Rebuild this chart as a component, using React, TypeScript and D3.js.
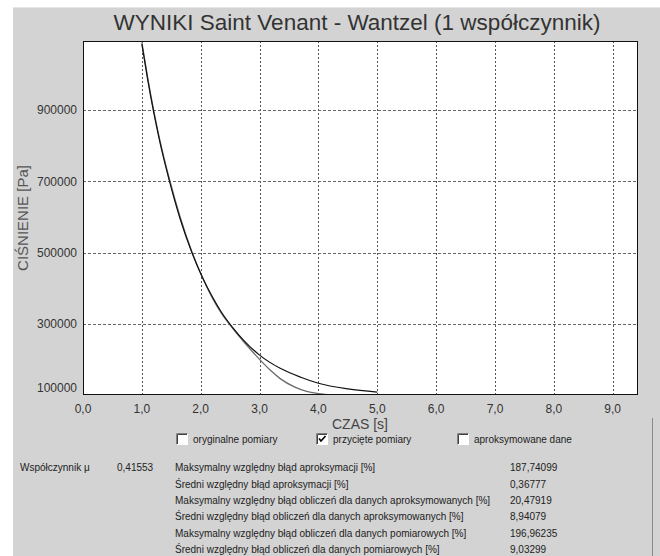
import React from 'react';
import * as d3 from 'd3';

// time [s] and pressure [Pa]
const approxTime = [1.0, 1.1, 1.2, 1.3, 1.47, 1.65, 1.85, 2.03, 2.2, 2.35, 2.53, 2.75, 3.0, 3.35, 3.7, 4.0, 4.5, 5.0];
const approxPressure = [1085000, 985000, 895000, 815000, 700000, 595000, 500000, 430000, 375000, 333000, 292000, 250000, 212000, 175000, 150000, 133000, 117000, 108000];

const measTime = [1.0, 1.1, 1.2, 1.3, 1.47, 1.65, 1.85, 2.03, 2.2, 2.35, 2.53, 2.75, 3.0, 3.18, 3.35, 3.6, 3.8, 4.0, 4.25];
const measPressure = [1090000, 990000, 900000, 820000, 705000, 600000, 502000, 430000, 372000, 330000, 290000, 246000, 200000, 170000, 146000, 122000, 110000, 104000, 100000];

const xTicks = [0, 1, 2, 3, 4, 5, 6, 7, 8, 9];
const yTicks = [100000, 300000, 500000, 700000, 900000];

const checkboxes = [
  { label: 'oryginalne pomiary', checked: false },
  { label: 'przycięte pomiary', checked: true },
  { label: 'aproksymowane dane', checked: false },
];

const statLabels = [
  'Maksymalny względny błąd aproksymacji [%]',
  'Średni względny błąd aproksymacji [%]',
  'Maksymalny względny błąd obliczeń dla danych aproksymowanych [%]',
  'Średni względny błąd obliczeń dla danych aproksymowanych [%]',
  'Maksymalny względny błąd obliczeń dla danych pomiarowych [%]',
  'Średni względny błąd obliczeń dla danych pomiarowych [%]',
];
const statValues = ['187,74099', '0,36777', '20,47919', '8,94079', '196,96235', '9,03299'];
const coefficient = '0,41553';

export default function App() {
  const left = 83;
  const right = 638;
  const top = 41;
  const bottom = 395;

  const x = d3.scaleLinear().domain([0, 9.43]).range([left, right]);
  const y = d3.scaleLinear().domain([100000, 1094000]).range([bottom, top]);

  const line = d3
    .line<[number, number]>()
    .x(d => x(d[0]))
    .y(d => y(d[1]))
    .curve(d3.curveMonotoneX);

  const approxPath = line(approxTime.map((t, i) => [t, approxPressure[i]]));
  const measPath = line(measTime.map((t, i) => [t, measPressure[i]]));

  const fmtX = (v: number) => v.toFixed(1).replace('.', ',');
  const font = '"Liberation Sans", Arial, sans-serif';
  const boxX = [176, 316, 457];
  const rowY = [467, 484, 500, 516, 533, 549];

  return (
    <svg
      width={660}
      height={556}
      style={{ position: 'absolute', left: 0, top: 0, fontFamily: font }}
    >
      <rect x={0} y={0} width={660} height={556} fill="#ffffff" />
      <rect x={13} y={7} width={647} height={549} fill="#d3d3d3" />
      <line x1={13} x2={660} y1={7.5} y2={7.5} stroke="#e6e6e6" />
      <line x1={652.5} x2={652.5} y1={418} y2={556} stroke="#8a8a8a" />

      <text x={357} y={30} textAnchor="middle" fontSize={22.5} fill="#333">
        WYNIKI Saint Venant - Wantzel (1 współczynnik)
      </text>

      <clipPath id="plot">
        <rect x={left} y={top} width={right - left} height={bottom - top} />
      </clipPath>
      <rect x={left} y={top} width={right - left} height={bottom - top} fill="#fff" />

      {/* grid */}
      {xTicks.slice(1).map(t => (
        <line key={'gx' + t} x1={Math.round(x(t)) + 0.5} x2={Math.round(x(t)) + 0.5} y1={top} y2={bottom}
          stroke="#555" strokeDasharray="2,2" />
      ))}
      {yTicks.slice(1).map(t => (
        <line key={'gy' + t} x1={left} x2={right} y1={Math.round(y(t)) + 0.5} y2={Math.round(y(t)) + 0.5}
          stroke="#666" strokeDasharray="3,2" />
      ))}

      <g clipPath="url(#plot)" fill="none">
        <path d={measPath || ''} stroke="#6a6a6a" strokeWidth={1.3} />
        <path d={approxPath || ''} stroke="#111" strokeWidth={1.2} />
      </g>

      <rect x={left + 0.5} y={top + 0.5} width={right - left - 1} height={bottom - top - 1} fill="none" stroke="#111" />

      {/* y axis labels */}
      {yTicks.map(t => (
        <text key={'yl' + t} x={77} y={Math.min(y(t), bottom - 7)} dy="0.35em" textAnchor="end" fontSize={12} fill="#333">
          {t}
        </text>
      ))}
      <text transform={`translate(28,${(top + bottom) / 2}) rotate(-90)`} textAnchor="middle" fontSize={15} fill="#555">
        CIŚNIENIE [Pa]
      </text>

      {/* x axis labels */}
      {xTicks.map(t => (
        <text key={'xl' + t} x={x(t)} y={413} textAnchor="middle" fontSize={12} fill="#333">
          {fmtX(t)}
        </text>
      ))}
      <text x={360} y={429} textAnchor="middle" fontSize={14} fill="#444">
        CZAS [s]
      </text>

      {/* checkboxes */}
      {checkboxes.map((c, i) => (
        <g key={c.label} transform={`translate(${boxX[i]},433)`}>
          <rect x={0} y={0} width={12} height={12} fill="#fff" />
          <path d="M0.5,12 V0.5 H12" fill="none" stroke="#808080" />
          <path d="M1.5,11 V1.5 H11" fill="none" stroke="#404040" />
          <path d="M0.5,11.5 H11.5 V0.5" fill="none" stroke="#fff" />
          {c.checked && (
            <path d="M3,5.5 L5,8 L9.5,3" fill="none" stroke="#000" strokeWidth={1.6} />
          )}
          <text x={17} y={10} fontSize={10} fill="#222">{c.label}</text>
        </g>
      ))}

      {/* statistics */}
      <text x={20} y={rowY[0] + 3.5} fontSize={10} fill="#222">Współczynnik μ</text>
      <text x={117} y={rowY[0] + 3.5} fontSize={10} fill="#222">{coefficient}</text>
      {statLabels.map((s, i) => (
        <g key={s}>
          <text x={175} y={rowY[i] + 3.5} fontSize={10} fill="#222">{s}</text>
          <text x={510} y={rowY[i] + 3.5} fontSize={10} fill="#222">{statValues[i]}</text>
        </g>
      ))}
    </svg>
  );
}
